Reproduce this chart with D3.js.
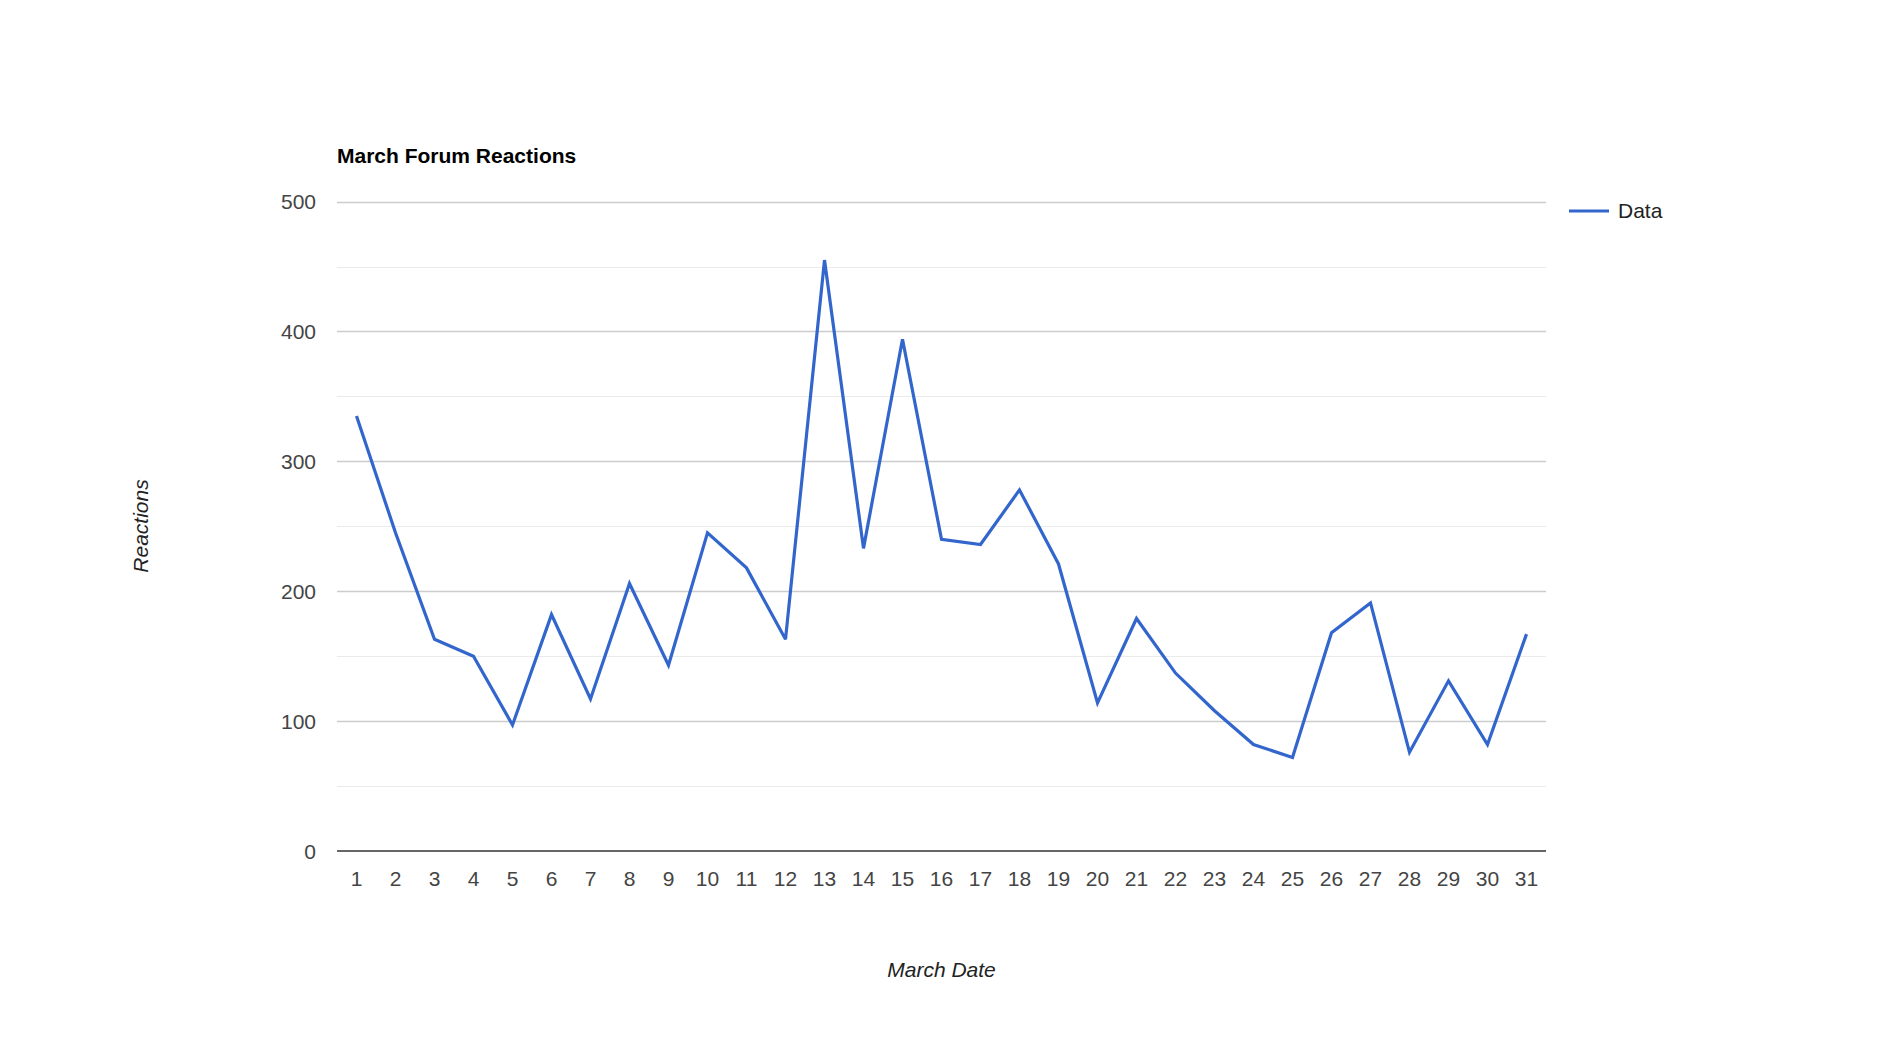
<!DOCTYPE html>
<html>
<head>
<meta charset="utf-8">
<script src="https://cdn.jsdelivr.net/npm/d3@7"></script>
<style>
  html, body { margin: 0; padding: 0; background: #fff; }
  svg { display: block; font-family: Arial, "Liberation Sans", sans-serif; }
</style>
</head>
<body>
<svg id="chart" width="1882" height="1052"></svg>
<script>
const chartTitle = "March Forum Reactions";
const xTitle = "March Date";
const yTitle = "Reactions";
const seriesName = "Data";
const days = [1,2,3,4,5,6,7,8,9,10,11,12,13,14,15,16,17,18,19,20,21,22,23,24,25,26,27,28,29,30,31];
const reactions = [335,245,163,150,97,182,117,206,143,245,218,163,455,233,394,240,236,278,221,114,179,137,108,82,72,168,191,76,131,82,167];
const yTicks = [0,100,200,300,400,500];
const yMinorTicks = [50,150,250,350,450];

const svg = d3.select("#chart");
const plotLeft = 337, plotRight = 1546, plotTop = 201.6, plotBottom = 851;
const fs = 21;

const x = d3.scaleBand().domain(days).range([plotLeft, plotRight]);
const y = d3.scaleLinear().domain([0, 500]).range([plotBottom, plotTop]);

// minor gridlines
svg.append("g").selectAll("line").data(yMinorTicks).join("line")
  .attr("x1", plotLeft).attr("x2", plotRight)
  .attr("y1", d => Math.round(y(d)) + 0.5).attr("y2", d => Math.round(y(d)) + 0.5)
  .attr("stroke", "#ebebeb").attr("stroke-width", 1);

// major gridlines
svg.append("g").selectAll("line").data(yTicks.filter(d => d !== 0)).join("line")
  .attr("x1", plotLeft).attr("x2", plotRight)
  .attr("y1", d => Math.round(y(d)) + 0.5).attr("y2", d => Math.round(y(d)) + 0.5)
  .attr("stroke", "#cccccc").attr("stroke-width", 1.3);

// y axis labels
const yAxis = d3.axisLeft(y).tickValues(yTicks).tickSize(0).tickPadding(0);
const gy = svg.append("g").attr("transform", `translate(${plotLeft - 21},0)`).call(yAxis);
gy.select(".domain").remove();
gy.selectAll("text").attr("font-size", fs).attr("fill", "#444").attr("font-family", "Arial, 'Liberation Sans', sans-serif").attr("dy", "0.35em");

// x axis labels
const xAxis = d3.axisBottom(x).tickSize(0).tickPadding(0);
const gx = svg.append("g").attr("transform", `translate(0,${plotBottom + 19})`).call(xAxis);
gx.select(".domain").remove();
gx.selectAll("text").attr("font-size", fs).attr("fill", "#444").attr("font-family", "Arial, 'Liberation Sans', sans-serif").attr("dy", "0.75em");

// baseline
svg.append("line").attr("x1", plotLeft).attr("x2", plotRight)
  .attr("y1", plotBottom).attr("y2", plotBottom)
  .attr("stroke", "#333").attr("stroke-width", 1.6);

// line
const line = d3.line().x((d, i) => x(days[i]) + x.bandwidth() / 2).y(d => y(d));
svg.append("path").datum(reactions)
  .attr("d", line).attr("fill", "none")
  .attr("stroke", "#3366cc").attr("stroke-width", 3.2)
  .attr("stroke-linejoin", "miter").attr("stroke-miterlimit", 3);

// title
svg.append("text").attr("x", plotLeft).attr("y", 163)
  .attr("font-size", fs).attr("font-weight", "bold").attr("fill", "#000")
  .text(chartTitle);

// axis titles
svg.append("text").attr("x", (plotLeft + plotRight) / 2).attr("y", 977)
  .attr("text-anchor", "middle").attr("font-size", fs).attr("font-style", "italic").attr("fill", "#222")
  .text(xTitle);
svg.append("text").attr("transform", "translate(148,526) rotate(-90)")
  .attr("text-anchor", "middle").attr("font-size", fs).attr("font-style", "italic").attr("fill", "#222")
  .text(yTitle);

// legend
svg.append("line").attr("x1", 1569).attr("x2", 1609).attr("y1", 211).attr("y2", 211)
  .attr("stroke", "#3366cc").attr("stroke-width", 3.2);
svg.append("text").attr("x", 1618).attr("y", 211).attr("dy", "0.35em")
  .attr("font-size", fs).attr("fill", "#222").text(seriesName);
</script>
</body>
</html>
